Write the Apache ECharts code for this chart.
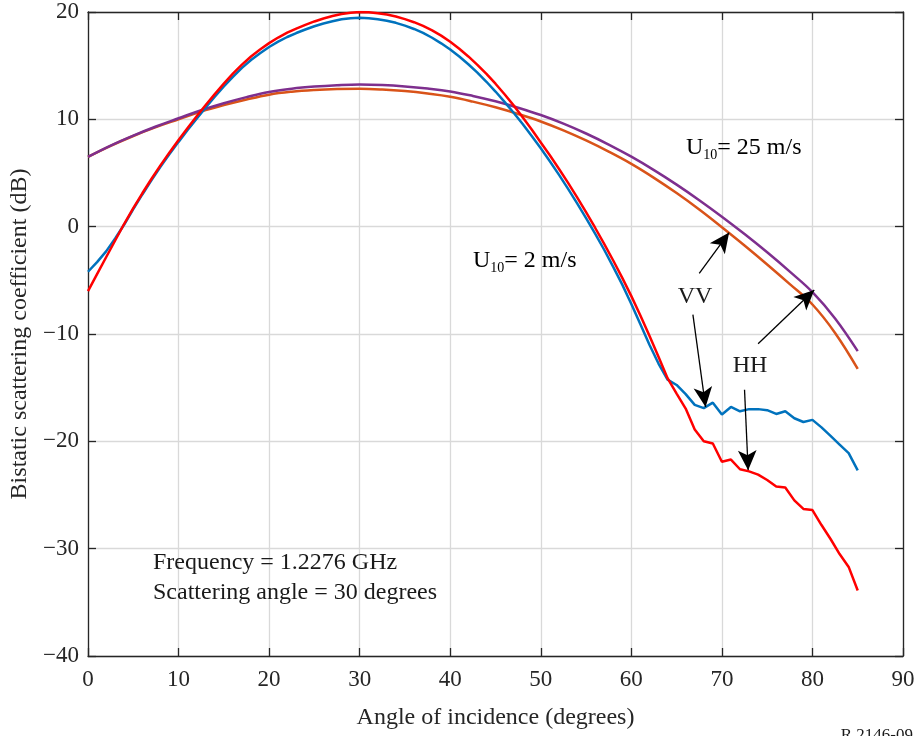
<!DOCTYPE html>
<html>
<head>
<meta charset="utf-8">
<script src="https://cdn.jsdelivr.net/npm/echarts@6/dist/echarts.min.js"></script>
<style>
html,body{margin:0;padding:0;background:#fff;}
#c{width:917px;height:736px;}
</style>
</head>
<body>
<div id="c"></div>
<script>
// Angles (degrees) for U10 = 2 m/s curves
const angles2 = [0,1,2,3,4,5,6,7,8,9,10,11,12,13,14,15,16,17,18,19,20,21,22,23,24,25,26,27,28,29,30,31,32,33,34,35,36,37,38,39,40,41,42,43,44,45,46,47,48,49,50,51,52,53,54,55,56,57,58,59,60,61,62,63,64,65,66,67,68,69,70,71,72,73,74,75,76,77,78,79,80,81,82,83,84,85];
// VV, U10 = 2 m/s (blue)
const vv2 = [-4.2,-3.3,-2.3,-1.1,0.2,1.63,3.0,4.31,5.57,6.76,7.9,9.0,10.06,11.1,12.1,13.06,13.96,14.79,15.53,16.16,16.74,17.24,17.67,18.04,18.37,18.67,18.93,19.14,19.32,19.42,19.46,19.42,19.33,19.19,18.99,18.73,18.42,18.05,17.6,17.08,16.5,15.85,15.13,14.35,13.5,12.59,11.63,10.62,9.56,8.45,7.3,6.1,4.85,3.55,2.2,0.8,-0.65,-2.15,-3.75,-5.4,-7.2,-9.1,-11.0,-12.75,-14.25,-14.75,-15.6,-16.6,-16.9,-16.4,-17.5,-16.8,-17.2,-17.0,-17.0,-17.1,-17.45,-17.2,-17.85,-18.2,-18.0,-18.7,-19.5,-20.3,-21.1,-22.7];
// HH, U10 = 2 m/s (red)
const hh2 = [-6.0,-4.42,-2.85,-1.29,0.27,1.72,3.11,4.44,5.71,6.92,8.08,9.2,10.28,11.33,12.35,13.33,14.25,15.1,15.85,16.5,17.1,17.62,18.07,18.45,18.8,19.12,19.4,19.63,19.82,19.94,20.0,19.97,19.89,19.76,19.58,19.34,19.05,18.7,18.29,17.8,17.23,16.58,15.86,15.08,14.24,13.32,12.34,11.3,10.2,9.05,7.85,6.65,5.4,4.1,2.75,1.35,-0.1,-1.6,-3.15,-4.77,-6.47,-8.27,-10.17,-12.12,-14.12,-15.55,-16.95,-18.9,-20.0,-20.2,-21.9,-21.7,-22.6,-22.8,-23.1,-23.6,-24.2,-24.3,-25.5,-26.3,-26.4,-27.8,-29.1,-30.5,-31.7,-33.9];
// Angles (degrees) for U10 = 25 m/s curves
const angles25 = [0,2.5,5,7.5,10,12.5,15,17.5,20,22.5,25,27.5,30,32.5,35,37.5,40,42.5,45,47.5,50,52.5,55,57.5,60,62.5,65,67.5,70,72.5,75,77.5,80,82.5,85];
// VV, U10 = 25 m/s (orange)
const vv25 = [6.5,7.53,8.45,9.27,10.0,10.72,11.32,11.85,12.3,12.57,12.73,12.82,12.85,12.78,12.63,12.4,12.1,11.65,11.12,10.5,9.8,8.97,8.03,6.99,5.85,4.55,3.13,1.6,-0.05,-1.75,-3.52,-5.35,-7.25,-9.9,-13.25];
// HH, U10 = 25 m/s (purple)
const hh25 = [6.5,7.55,8.48,9.33,10.1,10.85,11.5,12.07,12.55,12.85,13.05,13.18,13.25,13.2,13.07,12.87,12.6,12.18,11.68,11.08,10.4,9.6,8.68,7.65,6.52,5.27,3.92,2.47,0.93,-0.69,-2.39,-4.19,-6.1,-8.55,-11.6];
// Tick labels
const xTicks = [0,10,20,30,40,50,60,70,80,90];
const yTicks = [-40,-30,-20,-10,0,10,20];
// Annotation arrows [from, to] in data coordinates
const arrows = [
  [[67.5,-4.35],[70.8,-0.55]],
  [[66.8,-8.2],[68.2,-16.8]],
  [[72.5,-15.2],[72.9,-22.7]],
  [[74.0,-10.9],[80.2,-5.9]]
];

const pair = (xs, ys) => xs.map((x,i)=>[x,ys[i]]);
const FONT = '"Liberation Serif","DejaVu Serif",serif';
const fmtY = v => (v<0 ? '\u2212' + Math.abs(v) : String(v));

const chart = echarts.init(document.getElementById('c'), null, {renderer:'canvas'});
const axisLineStyle = {color:'#262626', width:1.3};
const commonX = {type:'value', min:0, max:90, interval:10};
const commonY = {type:'value', min:-40, max:20, interval:10};

chart.setOption({
  animation:false,
  backgroundColor:'#fff',
  grid:{left:88, right:14, top:12, bottom:80, containLabel:false, outerBoundsMode:'none'},
  xAxis:[
    Object.assign({}, commonX, {
      position:'bottom',
      name:'Angle of incidence (degrees)', nameLocation:'middle', nameGap:50,
      nameTextStyle:{fontFamily:FONT, fontSize:24, color:'#262626'},
      axisLine:{show:true, onZero:false, lineStyle:axisLineStyle},
      axisTick:{show:true, inside:true, length:8, lineStyle:axisLineStyle},
      axisLabel:{fontFamily:FONT, fontSize:23, color:'#262626', margin:12,
        formatter:v=> xTicks.includes(v) ? String(v) : ''},
      splitLine:{show:true, lineStyle:{color:'#d9d9d9', width:1.3}}
    }),
    Object.assign({}, commonX, {
      position:'top',
      axisLine:{show:true, onZero:false, lineStyle:axisLineStyle},
      axisTick:{show:true, inside:true, length:8, lineStyle:axisLineStyle},
      axisLabel:{show:false}, splitLine:{show:false}
    })
  ],
  yAxis:[
    Object.assign({}, commonY, {
      position:'left',
      name:'Bistatic scattering coefficient (dB)', nameLocation:'middle', nameGap:54,
      nameTextStyle:{fontFamily:FONT, fontSize:24, color:'#262626'},
      axisLine:{show:true, onZero:false, lineStyle:axisLineStyle},
      axisTick:{show:true, inside:true, length:8, lineStyle:axisLineStyle},
      axisLabel:{fontFamily:FONT, fontSize:23, color:'#262626', margin:9,
        formatter:v=> yTicks.includes(v) ? fmtY(v) : ''},
      splitLine:{show:true, lineStyle:{color:'#d9d9d9', width:1.3}}
    }),
    Object.assign({}, commonY, {
      position:'right',
      axisLine:{show:true, onZero:false, lineStyle:axisLineStyle},
      axisTick:{show:true, inside:true, length:8, lineStyle:axisLineStyle},
      axisLabel:{show:false}, splitLine:{show:false}
    })
  ],
  series:[
    {name:'VV 25', type:'line', data:pair(angles25, vv25), smooth:0.4, showSymbol:false,
      lineStyle:{color:'#d95319', width:2.5}, z:2},
    {name:'HH 25', type:'line', data:pair(angles25, hh25), smooth:0.4, showSymbol:false,
      lineStyle:{color:'#7e2f8e', width:2.5}, z:3},
    {name:'VV 2', type:'line', data:pair(angles2, vv2), showSymbol:false,
      lineStyle:{color:'#0072bd', width:2.5}, z:4},
    {name:'HH 2', type:'line', data:pair(angles2, hh2), showSymbol:false,
      lineStyle:{color:'#ff0000', width:2.5}, z:5,
      markLine:{
        silent:true, animation:false,
        symbol:['none','arrow'], symbolSize:[14,20],
        label:{show:false},
        lineStyle:{color:'#000', width:1.3, type:'solid'},
        emphasis:{disabled:true},
        data: arrows.map(a=>[{coord:a[0]},{coord:a[1]}])
      }}
  ]
});

// Text annotations
const toPx = (x,y)=>chart.convertToPixel({xAxisIndex:0, yAxisIndex:0},[x,y]);
const rich = {
  m:{fontFamily:FONT, fontSize:24, color:'#1a1a1a'},
  s:{fontFamily:FONT, fontSize:14, color:'#1a1a1a', padding:[14,0,0,0]}
};
const p25 = [686, 152];
const p2 = [473, 265];
const vvP = toPx(67.03, -6.55);
const hhP = toPx(73.1, -12.98);
chart.setOption({
  graphic:[
    {type:'text', left:p25[0], top:p25[1]-16, style:{rich:rich, text:'{m|U}{s|10}{m|= 25 m/s}'}},
    {type:'text', left:p2[0], top:p2[1]-16, style:{rich:rich, text:'{m|U}{s|10}{m|= 2 m/s}'}},
    {type:'text', x:vvP[0], y:vvP[1], style:{text:'VV', font:'24px '+FONT, fill:'#1a1a1a', textAlign:'center', textVerticalAlign:'middle'}},
    {type:'text', x:hhP[0], y:hhP[1], style:{text:'HH', font:'24px '+FONT, fill:'#1a1a1a', textAlign:'center', textVerticalAlign:'middle'}},
    {type:'text', x:153, y:563, style:{text:'Frequency = 1.2276 GHz', font:'24px '+FONT, fill:'#1a1a1a', textVerticalAlign:'middle'}},
    {type:'text', x:153, y:593, style:{text:'Scattering angle = 30 degrees', font:'24px '+FONT, fill:'#1a1a1a', textVerticalAlign:'middle'}},
    {type:'text', x:913, y:727, style:{text:'R.2146-09', font:'17px '+FONT, fill:'#1a1a1a', textAlign:'right', textVerticalAlign:'top'}}
  ]
});
</script>
</body>
</html>
